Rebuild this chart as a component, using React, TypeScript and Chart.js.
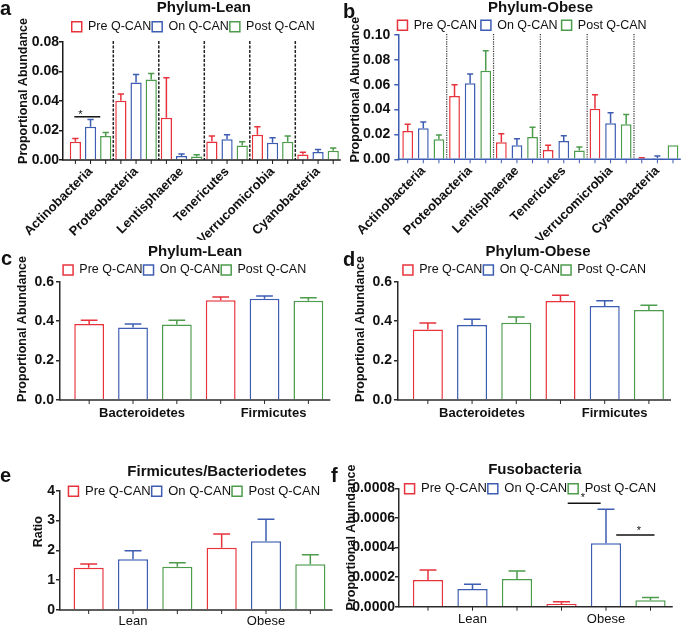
import React, { useEffect, useRef } from 'react';
import { Chart, registerables } from 'chart.js';

Chart.register(...registerables);
const FONT = "'Liberation Sans', Arial, Helvetica, sans-serif";
Chart.defaults.font.family = FONT;
Chart.defaults.color = '#111';

// ---------------- data ----------------
const seriesNames = ['Pre Q-CAN', 'On Q-CAN', 'Post Q-CAN'];

const minorPhyla = ['Actinobacteria', 'Proteobacteria', 'Lentisphaerae', 'Tenericutes', 'Verrucomicrobia', 'Cyanobacteria'];
const leanMinorPre = [0.0124, 0.0401, 0.0286, 0.0126, 0.0171, 0.0038];
const leanMinorOn = [0.0225, 0.0525, 0.0027, 0.014, 0.0117, 0.0054];
const leanMinorPost = [0.0162, 0.0545, 0.0023, 0.0099, 0.0124, 0.0063];
const leanMinorPreSem = [0.0022, 0.0047, 0.0271, 0.0036, 0.0054, 0.0014];
const leanMinorOnSem = [0.005, 0.0055, 0.0013, 0.0031, 0.0034, 0.0018];
const leanMinorPostSem = [0.0025, 0.0041, 0.0013, 0.0025, 0.0038, 0.0018];
const leanMinorTicks = [0, 0.02, 0.04, 0.06, 0.08];

const obeseMinorPre = [0.0228, 0.0509, 0.0137, 0.0075, 0.0407, 0.0008];
const obeseMinorOn = [0.0249, 0.0611, 0.0113, 0.0147, 0.029, 0.001];
const obeseMinorPost = [0.0161, 0.0713, 0.018, 0.007, 0.0282, 0.0113];
const obeseMinorPreSem = [0.0054, 0.0091, 0.0069, 0.0038, 0.0113, 0.0005];
const obeseMinorOnSem = [0.0051, 0.0075, 0.0053, 0.0043, 0.0085, 0.0017];
const obeseMinorPostSem = [0.0035, 0.0161, 0.0077, 0.0029, 0.0078, 0];
const obeseMinorTicks = [0, 0.02, 0.04, 0.06, 0.08, 0.1];

const majorPhyla = ['Bacteroidetes', 'Firmicutes'];
const leanMajorPre = [0.385, 0.506];
const leanMajorOn = [0.368, 0.514];
const leanMajorPost = [0.383, 0.503];
const leanMajorPreSem = [0.02, 0.017];
const leanMajorOnSem = [0.017, 0.014];
const leanMajorPostSem = [0.022, 0.016];
const obeseMajorPre = [0.358, 0.5025];
const obeseMajorOn = [0.38, 0.477];
const obeseMajorPost = [0.392, 0.457];
const obeseMajorPreSem = [0.032, 0.0285];
const obeseMajorOnSem = [0.03, 0.027];
const obeseMajorPostSem = [0.029, 0.024];
const majorTicks = [0, 0.2, 0.4, 0.6];

const groups = ['Lean', 'Obese'];
const ratioPre = [1.419, 2.089];
const ratioOn = [1.698, 2.302];
const ratioPost = [1.453, 1.531];
const ratioPreSem = [0.123, 0.458];
const ratioOnSem = [0.291, 0.737];
const ratioPostSem = [0.134, 0.324];
const ratioTicks = [0, 1, 2, 3, 4];

const fusoPre = [0.00018, 0.000018];
const fusoOn = [0.000119, 0.000428];
const fusoPost = [0.000187, 0.000043];
const fusoPreSem = [0.000068, 0.000016];
const fusoOnSem = [0.000032, 0.00023];
const fusoPostSem = [0.000054, 0.00002];
const fusoTicks = [0, 0.0002, 0.0004, 0.0006, 0.0008];

// significance marks: category, span in series units, line value, star position/value
type Sig = { cat: number; from: number; to: number; y: number; star: number; starY: number };
const leanMinorSig: Sig[] = [{ cat: 0, from: -0.07, to: 1.64, y: 0.0293, star: 0.33, starY: 0.0327 }];
const fusoSig: Sig[] = [
  { cat: 1, from: 0.14, to: 0.88, y: 0.000699, star: 0.48, starY: 0.000755 },
  { cat: 1, from: 1.23, to: 2.09, y: 0.000485, star: 1.74, starY: 0.000534 },
];

// ---------------- styles ----------------
const RED = '#E8333D';
const BLUE = '#3D5DB2';
const GREEN = '#4C9C4C';
const seriesColors = [RED, BLUE, GREEN];

type Layout = {
  x: number; y: number; w: number; h: number;
  yWidth: number; padRight: number; padTop: number; xHeight: number; gapLeft: number;
  titlePadBottom: number; legendFont: number; legendPad: number; legendMaxH: number;
  titleDx: number; legendDx: number; barPct: number; rot: number;
  xFontSize: number; xBold: boolean; xPad: number; labelOffset: number; yPad: number;
  axisColor: string; sep: '' | 'dashed' | 'dotted'; yTitleX: number; yTitleY: number;
};

type PanelDef = {
  title: string; labels: string[]; values: number[][]; errors: number[][];
  ticks: number[]; decimals: number; yTitle: string; sig: Sig[]; L: Layout;
};

const base = {
  w: 345, titleDx: 0, legendDx: 0, rot: 0, xFontSize: 13, xBold: true, xPad: 6, labelOffset: 0,
  yPad: 2, axisColor: '#2a2a2a', sep: '' as const, legendFont: 12.5, legendPad: 1, barPct: 0.68,
};

const panels: PanelDef[] = [
  {
    title: 'Phylum-Lean', labels: minorPhyla,
    values: [leanMinorPre, leanMinorOn, leanMinorPost],
    errors: [leanMinorPreSem, leanMinorOnSem, leanMinorPostSem],
    ticks: leanMinorTicks, decimals: 2, yTitle: 'Proportional Abundance', sig: leanMinorSig,
    L: { ...base, x: 0, y: 0, h: 240, yWidth: 63, padRight: 4.2, padTop: 0, xHeight: 80, gapLeft: 4.8,
      titlePadBottom: 4.45, legendMaxH: 22.55, titleDx: 2, legendDx: -8.6, barPct: 0.74, rot: 45,
      xPad: 4, yPad: 0, axisColor: '#1a1a1a', sep: 'dashed', yTitleX: 23.8, yTitleY: 91 },
  },
  {
    title: 'Phylum-Obese', labels: minorPhyla,
    values: [obeseMinorPre, obeseMinorOn, obeseMinorPost],
    errors: [obeseMinorPreSem, obeseMinorOnSem, obeseMinorPostSem],
    ticks: obeseMinorTicks, decimals: 2, yTitle: 'Proportional Abundance', sig: [],
    L: { ...base, x: 340, y: 0, h: 240, yWidth: 58.3, padRight: 4.2, padTop: 0, xHeight: 80.7, gapLeft: 1.6,
      titlePadBottom: 0, legendPad: 4, legendMaxH: 20, titleDx: 1, legendDx: -17.5, barPct: 0.69, rot: 45,
      xPad: 4, yPad: 4, axisColor: BLUE, sep: 'dotted', yTitleX: 16, yTitleY: 89.7 },
  },
  {
    title: 'Phylum-Lean', labels: majorPhyla,
    values: [leanMajorPre, leanMajorOn, leanMajorPost],
    errors: [leanMajorPreSem, leanMajorOnSem, leanMajorPostSem],
    ticks: majorTicks, decimals: 1, yTitle: 'Proportional Abundance', sig: [],
    L: { ...base, x: 0, y: 240, h: 190, yWidth: 60, padRight: 14.7, padTop: 4, xHeight: 30, gapLeft: 7.25,
      titlePadBottom: 3.75, legendMaxH: 18.95, titleDx: 0, legendDx: -10.5, labelOffset: 9, yPad: 2,
      yTitleX: 22.5, yTitleY: 89 },
  },
  {
    title: 'Phylum-Obese', labels: majorPhyla,
    values: [obeseMajorPre, obeseMajorOn, obeseMajorPost],
    errors: [obeseMajorPreSem, obeseMajorOnSem, obeseMajorPostSem],
    ticks: majorTicks, decimals: 1, yTitle: 'Proportional Abundance', sig: [],
    L: { ...base, x: 340, y: 240, h: 190, yWidth: 58, padRight: 14, padTop: 4, xHeight: 30, gapLeft: 7.75,
      titlePadBottom: 3.75, legendMaxH: 18.95, titleDx: 3.5, legendDx: -10, labelOffset: 10, yPad: 2,
      yTitleX: 21, yTitleY: 89 },
  },
  {
    title: 'Firmicutes/Bacteriodetes', labels: groups,
    values: [ratioPre, ratioOn, ratioPost],
    errors: [ratioPreSem, ratioOnSem, ratioPostSem],
    ticks: ratioTicks, decimals: 0, yTitle: 'Ratio', sig: [],
    L: { ...base, x: 0, y: 455, h: 176, yWidth: 60, padRight: 12.5, padTop: 9.5, xHeight: 21, gapLeft: 6.5,
      titlePadBottom: 4.3, legendFont: 13, legendMaxH: 6.9, titleDx: 20.7, legendDx: -2,
      xBold: false, xPad: 3.5, yPad: 1, yTitleX: 39, yTitleY: 76.7 },
  },
  {
    title: 'Fusobacteria', labels: groups,
    values: [fusoPre, fusoOn, fusoPost],
    errors: [fusoPreSem, fusoOnSem, fusoPostSem],
    ticks: fusoTicks, decimals: 4, yTitle: 'Proportional Abundance', sig: fusoSig,
    L: { ...base, x: 340, y: 455, h: 176, yWidth: 59, padRight: 12.25, padTop: 7.5, xHeight: 24.3, gapLeft: 6.75,
      titlePadBottom: 3.7, legendFont: 13, legendMaxH: 7.1, titleDx: -1, legendDx: -5.5,
      xBold: false, xPad: 4.5, yPad: 0, yTitleX: 11.7, yTitleY: 82.5 },
  },
];

const panelLetters = [
  { t: 'a', x: 0, y: -2 },
  { t: 'b', x: 343, y: 1 },
  { t: 'c', x: 1, y: 248 },
  { t: 'd', x: 343, y: 249 },
  { t: 'e', x: 0, y: 465 },
  { t: 'f', x: 331, y: 465 },
];

// ---------------- chart building ----------------
function makeDeco(p: PanelDef) {
  const L = p.L;
  return {
    id: 'deco',
    afterLayout(chart: any) {
      const xs = chart.scales.x;
      xs.left += L.gapLeft;
      xs.width = xs.right - xs.left;
      xs.configure();
      const t = chart.titleBlock;
      if (t) { t.left += L.titleDx; t.right += L.titleDx; }
      const lg = chart.legend;
      if (lg) {
        lg.left += L.legendDx;
        lg.right += L.legendDx;
        // legend may overlap the plot: widen its clip box so the labels are not cut
        lg.height = 40;
        lg.bottom = lg.top + 40;
      }
    },
    beforeDatasetsDraw(chart: any) {
      if (!L.sep) return;
      const { ctx, chartArea: a } = chart;
      const xs = chart.scales.x;
      ctx.save();
      ctx.strokeStyle = L.sep === 'dashed' ? '#222' : '#333';
      ctx.lineWidth = L.sep === 'dashed' ? 1.5 : 1.2;
      ctx.setLineDash(L.sep === 'dashed' ? [3, 1.5] : [1.2, 1.2]);
      for (let i = 0; i < p.labels.length - 1; i++) {
        const xp = (xs.getPixelForValue(i) + xs.getPixelForValue(i + 1)) / 2;
        ctx.beginPath();
        ctx.moveTo(xp, a.top - 1);
        ctx.lineTo(xp, a.bottom);
        ctx.stroke();
      }
      ctx.restore();
    },
    afterDatasetsDraw(chart: any) {
      const { ctx, chartArea: a } = chart;
      const ys = chart.scales.y;
      ctx.save();
      // error bars
      chart.data.datasets.forEach((ds: any, i: number) => {
        const meta = chart.getDatasetMeta(i);
        meta.data.forEach((el: any, j: number) => {
          const e = p.errors[i][j];
          if (!e) return;
          const yTop = ys.getPixelForValue(ds.data[j] + e);
          const half = el.width * 0.28;
          ctx.strokeStyle = ds.borderColor;
          ctx.lineWidth = 1.5;
          ctx.beginPath();
          ctx.moveTo(el.x, el.y);
          ctx.lineTo(el.x, yTop);
          ctx.moveTo(el.x - half, yTop);
          ctx.lineTo(el.x + half, yTop);
          ctx.stroke();
        });
      });
      // x axis line
      ctx.strokeStyle = L.axisColor;
      ctx.lineWidth = 1.5;
      ctx.beginPath();
      ctx.moveTo(a.left - 0.75, a.bottom);
      ctx.lineTo(a.right, a.bottom);
      ctx.stroke();
      // x tick marks under each bar
      ctx.lineWidth = 1;
      chart.data.datasets.forEach((_ds: any, i: number) => {
        chart.getDatasetMeta(i).data.forEach((el: any) => {
          ctx.beginPath();
          ctx.moveTo(el.x, a.bottom);
          ctx.lineTo(el.x, a.bottom + 4);
          ctx.stroke();
        });
      });
      // significance marks
      p.sig.forEach((s) => {
        const c0 = chart.getDatasetMeta(0).data[s.cat].x;
        const c1 = chart.getDatasetMeta(1).data[s.cat].x;
        const px = (v: number) => c0 + v * (c1 - c0);
        const yl = ys.getPixelForValue(s.y);
        ctx.strokeStyle = '#111';
        ctx.lineWidth = 1.5;
        ctx.beginPath();
        ctx.moveTo(px(s.from), yl);
        ctx.lineTo(px(s.to), yl);
        ctx.stroke();
        const fs = 11;
        ctx.fillStyle = '#111';
        ctx.font = `${fs}px ${FONT}`;
        ctx.textAlign = 'center';
        ctx.textBaseline = 'alphabetic';
        ctx.fillText('*', px(s.star), ys.getPixelForValue(s.starY) + fs * 0.58);
      });
      ctx.restore();
    },
    afterDraw(chart: any) {
      const { ctx } = chart;
      ctx.save();
      ctx.translate(L.yTitleX, L.yTitleY);
      ctx.rotate(-Math.PI / 2);
      ctx.fillStyle = '#111';
      ctx.font = `bold 12.5px ${FONT}`;
      ctx.textAlign = 'center';
      ctx.textBaseline = 'middle';
      ctx.fillText(p.yTitle, 0, 0);
      ctx.restore();
    },
  };
}

function buildConfig(p: PanelDef): any {
  const L = p.L;
  const tickVals = p.ticks;
  return {
    type: 'bar',
    data: {
      labels: p.labels,
      datasets: seriesNames.map((name, i) => ({
        label: name,
        data: p.values[i],
        backgroundColor: '#ffffff',
        borderColor: seriesColors[i],
        borderWidth: 1.5,
        categoryPercentage: 1,
        barPercentage: L.barPct,
      })),
    },
    options: {
      responsive: false,
      animation: false,
      events: [],
      layout: { padding: { left: 0, right: L.padRight, top: L.padTop, bottom: 0 } },
      scales: {
        x: {
          type: 'category',
          offset: true,
          grid: { display: false, drawTicks: false },
          border: { display: false },
          ticks: {
            autoSkip: false,
            minRotation: L.rot,
            maxRotation: L.rot,
            padding: L.xPad,
            labelOffset: L.labelOffset,
            color: '#111',
            font: { size: L.xFontSize, weight: L.xBold ? 'bold' : 'normal' },
          },
          afterFit: (s: any) => { s.height = L.xHeight; },
        },
        y: {
          type: 'linear',
          min: tickVals[0],
          max: tickVals[tickVals.length - 1],
          afterBuildTicks: (s: any) => { s.ticks = tickVals.map((v) => ({ value: v })); },
          ticks: {
            padding: L.yPad,
            color: '#111',
            font: { size: 14, weight: 'bold' },
            callback: (v: any) => Number(v).toFixed(p.decimals),
          },
          grid: { drawOnChartArea: false, drawTicks: true, tickLength: 4, color: L.axisColor, lineWidth: 1.5 },
          border: { display: true, color: L.axisColor, width: 1.5 },
          afterFit: (s: any) => { s.width = L.yWidth; },
        },
      },
      plugins: {
        tooltip: { enabled: false },
        title: {
          display: true,
          text: p.title,
          fullSize: false,
          color: '#111',
          font: { size: 15, weight: 'bold', lineHeight: 1 },
          padding: { top: 0, bottom: L.titlePadBottom },
        },
        legend: {
          display: true,
          position: 'top',
          fullSize: false,
          maxHeight: L.legendMaxH,
          labels: {
            boxWidth: 10,
            boxHeight: 10,
            padding: L.legendPad,
            color: '#111',
            font: { size: L.legendFont },
          },
        },
      },
    },
    plugins: [makeDeco(p)],
  };
}

function Panel({ def }: { def: PanelDef }) {
  const ref = useRef<HTMLCanvasElement>(null);
  useEffect(() => {
    const chart = new Chart(ref.current as HTMLCanvasElement, buildConfig(def));
    return () => chart.destroy();
  }, [def]);
  const L = def.L;
  return (
    <canvas
      ref={ref}
      width={L.w}
      height={L.h}
      style={{ position: 'absolute', left: L.x, top: L.y, width: L.w, height: L.h }}
    />
  );
}

export default function App() {
  return (
    <div style={{ position: 'absolute', left: 0, top: 0, width: 685, height: 631, background: '#fff', overflow: 'hidden' }}>
      {panels.map((d, i) => <Panel key={i} def={d} />)}
      {panelLetters.map((l) => (
        <div
          key={l.t}
          style={{ position: 'absolute', left: l.x, top: l.y, fontFamily: FONT, fontWeight: 'bold', fontSize: 20, lineHeight: 1, color: '#111' }}
        >
          {l.t}
        </div>
      ))}
    </div>
  );
}
